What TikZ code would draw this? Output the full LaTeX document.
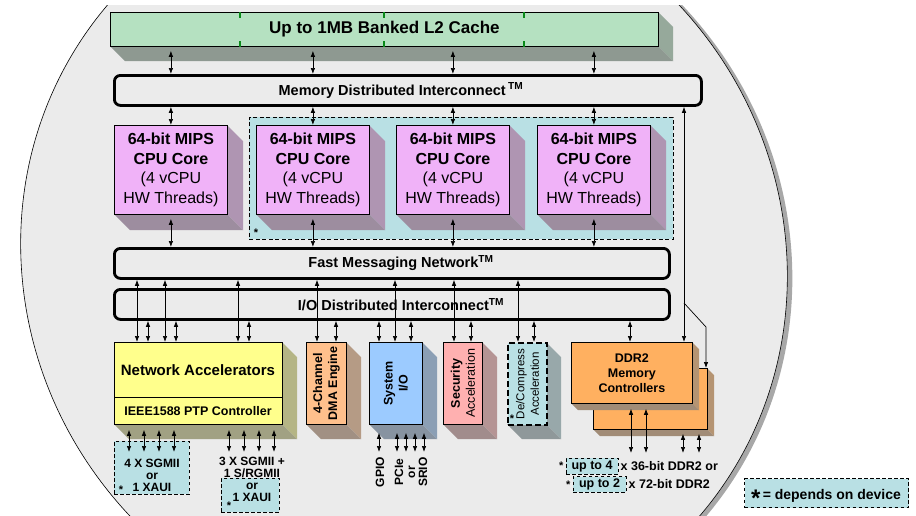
\documentclass[tikz,border=0pt]{standalone}
\usepackage{fontspec}
\setmainfont{Liberation Sans}
\usetikzlibrary{arrows.meta}

\definecolor{chipgray}{HTML}{EBEBEB}
\definecolor{ringgray}{HTML}{A8A8A8}
\definecolor{cachegreen}{HTML}{B5E1C1}
\definecolor{tickgreen}{HTML}{0A8A1A}
\definecolor{corepink}{HTML}{F0B2F8}
\definecolor{optcyan}{HTML}{B9E0E4}
\definecolor{accyellow}{HTML}{FFFF8C}
\definecolor{dmapeach}{HTML}{FFC08C}
\definecolor{sysblue}{HTML}{9CCBFF}
\definecolor{secpink}{HTML}{FFB0B0}
\definecolor{ddrorange}{HTML}{FFB060}

% side and under face of a block: x, y (top left), width, height, depth, colour
\newcommand{\extrude}[6]{%
  \fill[#6!42!gray] (#1+#3,#2) -- ++(#5,#5) -- ++(0,#4) -- ++(-#5,-#5) -- cycle;
  \fill[#6!26!gray] (#1,#2+#4) -- ++(#5,#5) -- ++(#3,0) -- ++(-#5,-#5) -- cycle;
}

\tikzset{
  block/.style={draw, line width=.8pt, anchor=north west, inner sep=0pt},
  bus/.style={draw, line width=2.8pt, rounded corners=6pt, fill=chipgray, anchor=north west, inner sep=0pt},
  bustext/.style={font=\fontsize{14.5}{17}\selectfont\bfseries},
  coretext/.style={align=center, font=\fontsize{16}{19.5}\selectfont},
  vtext/.style={rotate=90, align=center, font=\fontsize{12.5}{15}\selectfont\bfseries},
  phytext/.style={align=center, font=\fontsize{12}{12}\selectfont\bfseries},
  notetext/.style={inner sep=2pt, font=\fontsize{12.5}{14}\selectfont\bfseries},
  link/.style={{Latex[length=6pt,width=4.5pt]}-{Latex[length=6pt,width=4.5pt]}, line width=.7pt},
  feed/.style={-{Latex[length=6pt,width=4.5pt]}, line width=.7pt},
  banktick/.style={draw=tickgreen, line width=1.6pt},
  optregion/.style={draw, fill=optcyan, line width=.8pt, dash pattern=on 4pt off 2.5pt, anchor=north west, inner sep=0pt},
  optsmall/.style={draw, fill=optcyan, line width=.9pt, dash pattern=on 3.5pt off 2.5pt, inner sep=0pt},
  footstar/.style={font=\fontsize{11}{11}\selectfont\bfseries, inner sep=0pt},
}

\begin{document}
\begin{tikzpicture}[x=1pt, y=-1pt]
\useasboundingbox (0,0) rectangle (916,515);

% chip outline
\begin{scope}
  \clip (0,5) rectangle (916,515);
  \begin{scope}[shift={(409,262)}, xslant=-0.042]
    \fill[ringgray] (0,0) circle[radius=383];
  \end{scope}
  \begin{scope}[shift={(404,260)}, xslant=-0.042]
    \filldraw[fill=chipgray, line width=.6pt] (0,0) circle[radius=383];
  \end{scope}
\end{scope}

% optional cores
\node[optregion, minimum width=424pt, minimum height=122pt] (coreopt) at (249,117) {};
\node[footstar] (coreoptstar) at (256,233) {*};

% L2 cache
\extrude{110}{12}{548}{34}{15}{cachegreen}
\node[block, fill=cachegreen, minimum width=548pt, minimum height=34pt, font=\fontsize{17}{20}\selectfont\bfseries] (l2) at (110,12) {Up to 1MB Banked L2 Cache};
\foreach \x in {240,384,524} {
  \draw[banktick] (\x,0 |- l2.north) -- ++(0,6);
  \draw[banktick] (\x,0 |- l2.south) -- ++(0,-6);
}

% interconnects
\node[bus, minimum width=587pt, minimum height=30pt] (mdi) at (113,74) {};
\node[bustext] (mditext) at (401,0 |- mdi.center) {Memory Distributed Interconnect\,\textsuperscript{TM}};
\node[bus, minimum width=555pt, minimum height=30pt] (fmn) at (113,247) {};
\node[bustext] (fmntext) at (401,0 |- fmn.center) {Fast Messaging Network\textsuperscript{TM}};
\node[bus, minimum width=555pt, minimum height=30pt] (iobus) at (113,288) {};
\node[bustext] (iobustext) at (401,0 |- iobus.center) {I/O Distributed Interconnect\textsuperscript{TM}};

% cores
\foreach \n/\x in {A/114,B/256,C/396,D/537} {
  \extrude{\x}{125}{113}{89}{16}{corepink}
  \node[block, fill=corepink, minimum width=113pt, minimum height=89pt] (core\n) at (\x,125) {};
  \node[coretext] (core\n text) at (core\n.center) {\textbf{64-bit MIPS}\\\textbf{CPU Core}\\(4 vCPU\\HW Threads)};
  \draw[link, shorten <=4pt] (core\n.north |- l2.south) -- (core\n.north |- mdi.north);
  \draw[link] (core\n.north |- mdi.south) -- (core\n.north);
  \draw[link, shorten <=4pt] (core\n.south) -- (core\n.south |- fmn.north);
}

% I/O blocks
\extrude{114}{342}{168}{82}{15}{accyellow}
\node[block, fill=accyellow, minimum width=168pt, minimum height=82pt] (netacc) at (114,342) {};
\draw[line width=.8pt] (netacc.west |- 0,397) -- (netacc.east |- 0,397);
\node[font=\fontsize{15}{18}\selectfont\bfseries] (netacctext) at (198,370) {Network Accelerators};
\node[font=\fontsize{12.5}{15}\selectfont\bfseries] (ptptext) at (198,411) {IEEE1588 PTP Controller};

\extrude{306}{342}{40}{82}{15}{dmapeach}
\node[block, fill=dmapeach, minimum width=40pt, minimum height=82pt] (dma) at (306,342) {};
\node[vtext] (dmatext) at (dma.center) {4-Channel\\DMA Engine};

\extrude{369}{342}{53}{82}{15}{sysblue}
\node[block, fill=sysblue, minimum width=53pt, minimum height=82pt] (sysio) at (369,342) {};
\node[vtext] (sysiotext) at (sysio.center) {System\\I/O};

\extrude{443}{342}{39}{82}{15}{secpink}
\node[block, fill=secpink, minimum width=39pt, minimum height=82pt] (secacc) at (443,342) {};
\node[vtext] (secacctext) at (secacc.center) {Security\\\mdseries Acceleration};

\extrude{507}{342}{39}{82}{15}{optcyan}
\node[block, fill=optcyan, line width=2pt, dash pattern=on 6pt off 3pt, minimum width=39pt, minimum height=82pt] (decomp) at (507,342) {};
\node[vtext, font=\fontsize{11.5}{14.5}\selectfont] (decomptext) at (decomp.center) {De/Compress\\Acceleration};
\node[footstar] (decompstar) at (512,419) {*};

\extrude{593}{368}{114}{61}{7}{ddrorange}
\node[block, fill=ddrorange, minimum width=114pt, minimum height=61pt] (ddrB) at (593,368) {};
\extrude{571}{342}{121}{61}{7}{ddrorange}
\node[block, fill=ddrorange, minimum width=121pt, minimum height=61pt, align=center, font=\fontsize{12.5}{15}\selectfont\bfseries] (ddrA) at (571,342) {DDR2\\Memory\\Controllers};

% links to the interconnects
\foreach \x/\b in {137/netacc,165/netacc,238/netacc,317/dma,395/sysio,454/secacc,518/decomp}
  \draw[link] (\x,0 |- fmn.south) -- (\x,0 |- \b.north);
\foreach \x/\b in {148/netacc,176/netacc,249/netacc,336/dma,379/sysio,411/sysio,471/secacc,534/decomp,630/ddrA}
  \draw[link] (\x,0 |- iobus.south) -- (\x,0 |- \b.north);
\draw[link] (684,0 |- mdi.south) -- (684,0 |- ddrA.north);
\coordinate (ddrfork) at (684,303);
\draw[feed] (ddrfork) -- ++(22,24) coordinate (ddrbend) -- (ddrbend |- ddrB.north);

% external ports
\node[optsmall, anchor=north west, minimum width=75pt, minimum height=53pt] (sgmiiA) at (114,441) {};
\node[phytext] (sgmiiAtext) at (152,475) {4 X SGMII\\or\\1 XAUI};
\node[footstar] (sgmiiAstar) at (121,490) {*};
\node[optsmall, anchor=north west, minimum width=58pt, minimum height=34pt] (sgmiiB) at (221,478) {};
\node[phytext] (sgmiiBtext) at (252,479) {3 X SGMII +\\1 S/RGMII\\or\\1 XAUI};
\node[footstar] (sgmiiBstar) at (229,506) {*};

\coordinate (phyend) at (0,452);
\foreach \x in {129,144,159,174,229,244,259,274}
  \draw[link, shorten <=5pt] (\x,0 |- netacc.south) -- (\x,0 |- phyend);
\foreach \x in {379,397,406,415,424}
  \draw[link, shorten <=8pt] (\x,0 |- sysio.south) -- (\x,0 |- phyend);
\node[phytext, rotate=90] (gpio) at (380,472) {GPIO};
\node[phytext, rotate=90] (pcie) at (411,472) {PCIe\\or\\SRIO};

\coordinate (ddrend) at (0,453);
\foreach \x in {631,646}
  \draw[link, shorten <=5pt] (\x,0 |- ddrA.south) -- (\x,0 |- ddrend);
\foreach \x in {683,699}
  \draw[link, shorten <=4pt] (\x,0 |- ddrB.south) -- (\x,0 |- ddrend);

\node[optsmall, notetext, minimum width=52pt, minimum height=16pt] (ddrfour) at (592,466) {up to 4};
\node[notetext, anchor=west] (ddrfourtext) at (ddrfour.east) {x 36-bit DDR2 or};
\node[footstar, anchor=east] (ddrfourstar) at ([xshift=-2pt]ddrfour.west) {*};
\node[optsmall, notetext, minimum width=53pt, minimum height=15pt] (ddrtwo) at (599.5,484.5) {up to 2};
\node[notetext, anchor=west] (ddrtwotext) at (ddrtwo.east) {x 72-bit DDR2};
\node[footstar, anchor=east] (ddrtwostar) at ([xshift=-2pt]ddrtwo.west) {*};

% legend
\node[optsmall, line width=1.3pt, anchor=north west, minimum width=164pt, minimum height=29pt] (legend) at (744,478) {};
\node[anchor=base, font=\fontsize{14}{14}\selectfont\bfseries] (legendtext) at (826,499) {\raisebox{-7pt}{\fontsize{24}{24}\selectfont *}\,= depends on device};
\end{tikzpicture}
\end{document}
